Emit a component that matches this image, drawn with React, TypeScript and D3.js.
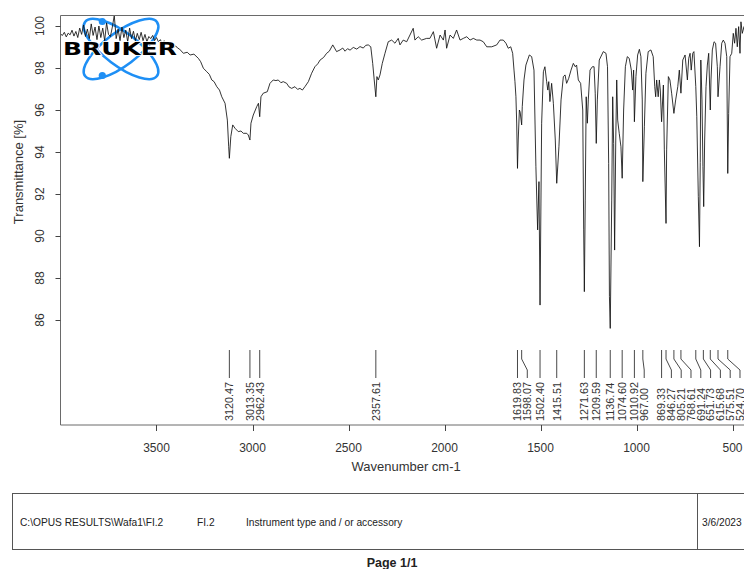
import React from 'react';
import * as d3 from 'd3';

const wavenumbers: number[] = [
  4000, 3990, 3980, 3970, 3960, 3950, 3940, 3930, 3920, 3910, 3900, 3890, 3880, 3870, 3860, 3850, 3840, 3830, 3820, 3810,
  3800, 3790, 3780, 3770, 3760, 3750, 3740, 3730, 3720, 3710, 3700, 3690, 3680, 3670, 3660, 3650, 3640, 3630, 3620, 3610,
  3600, 3590, 3580, 3570, 3560, 3550, 3540, 3530, 3520, 3510, 3500, 3490, 3480, 3470, 3460, 3450, 3440, 3430, 3420, 3410,
  3400, 3390, 3380,
  3360, 3340, 3325, 3305, 3282, 3270, 3256, 3238, 3225, 3212, 3200, 3186, 3172, 3160, 3143, 3131, 3124, 3120.47, 3113, 3103,
  3091, 3074, 3060, 3048, 3030, 3022, 3013.35, 3008, 2996, 2978, 2969, 2962.43, 2956, 2944, 2923, 2909, 2892, 2878, 2866, 2852,
  2840, 2822, 2810, 2796, 2779, 2765, 2753, 2740, 2727, 2709, 2692, 2675, 2660, 2648, 2630, 2614, 2600, 2582, 2562, 2544,
  2530, 2518, 2505, 2492, 2475, 2457, 2440, 2423, 2410, 2397, 2384, 2374, 2366, 2357.61, 2352, 2345, 2336, 2324, 2310, 2293,
  2275, 2258, 2241, 2232, 2215, 2197, 2180, 2163, 2154, 2137, 2119, 2093, 2076, 2058, 2041, 2023, 2006, 1997, 1989, 1971,
  1954, 1937, 1919, 1902, 1884, 1867, 1850, 1832, 1815, 1798, 1780, 1754, 1728, 1711, 1694, 1680, 1668, 1655, 1645, 1638,
  1633, 1628, 1624, 1619.83, 1616, 1610, 1606, 1598.07, 1595, 1586, 1576, 1558, 1546, 1534, 1524, 1515, 1508, 1502.4, 1494, 1485,
  1477, 1468, 1462, 1457, 1451, 1442, 1433, 1423, 1415.51, 1404, 1393, 1381, 1372, 1364, 1353, 1341, 1329, 1319, 1312, 1303,
  1291, 1280, 1275, 1271.63, 1267, 1262, 1256, 1251, 1242, 1230, 1221, 1215, 1209.59, 1204, 1194, 1173, 1159, 1151, 1145, 1141,
  1136.74, 1129, 1124, 1119, 1114, 1108, 1103, 1098, 1090, 1081, 1074.6, 1067, 1058, 1048, 1038, 1027, 1020, 1015, 1010.92, 1003,
  994, 985, 977, 970, 967, 959, 951, 939, 925, 913, 905, 900, 895, 887, 881, 876, 869.33, 860, 855, 846.27,
  843, 834, 826, 817, 805.21, 796, 785, 777, 768.61, 759, 747, 735, 728, 721, 715, 707, 701, 691.24, 686, 678,
  672, 668, 665, 659, 654, 650, 645, 638, 631, 624, 615.68, 612, 605, 596, 588, 579, 575.51, 565, 556, 548,
  539, 530, 524.7, 520, 513, 504, 496, 489, 482, 475, 468, 461, 456, 449, 440, 430, 420, 410, 400,
];

const transmittance: number[] = [
  99.62, 99.55, 99.70, 99.48, 99.66, 99.58, 99.80, 99.52, 99.74, 99.45, 99.90, 99.60, 100.05, 99.50, 99.85, 99.40, 100.10, 99.55, 99.95, 99.35,
  100.00, 99.45, 99.90, 99.30, 100.15, 99.60, 99.50, 99.95, 100.50, 99.40, 99.85, 99.30, 99.95, 99.45, 99.80, 99.25, 99.90, 99.40, 99.75, 99.30,
  99.65, 99.35, 99.70, 99.30, 99.60, 99.25, 99.50, 99.40, 99.55, 99.30, 99.45, 99.25, 99.35, 99.15, 99.30, 99.10, 99.20, 99.05, 99.12, 98.98,
  99.05, 98.95, 98.90,
  98.70, 98.75, 98.62, 98.66, 98.46, 98.30, 97.99, 97.82, 97.70, 97.43, 97.35, 97.11, 96.95, 96.63, 96.32, 95.52, 94.25, 93.70, 94.73, 95.29,
  95.13, 94.97, 95.00, 94.89, 94.89, 94.81, 94.57, 95.37, 95.76, 96.16, 96.32, 95.68, 96.63, 96.80, 96.87, 97.27, 97.43, 97.40, 97.43, 97.30,
  97.35, 97.27, 97.10, 97.03, 97.11, 96.98, 97.03, 96.95, 97.11, 97.35, 97.75, 98.06, 98.20, 98.38, 98.50, 98.70, 98.80, 99.10, 98.78, 98.86,
  98.95, 98.80, 98.92, 98.85, 98.98, 98.90, 99.02, 98.95, 99.08, 99.10, 99.01, 98.22, 97.43, 96.63, 97.59, 97.43, 97.67, 98.22, 98.70, 99.25,
  99.33, 99.18, 99.41, 99.10, 99.33, 99.25, 99.57, 99.89, 99.33, 99.49, 99.33, 99.41, 99.41, 99.73, 98.94, 99.57, 99.33, 99.81, 98.94, 99.57,
  99.41, 99.81, 99.33, 99.41, 99.49, 99.33, 99.41, 99.33, 99.33, 99.25, 99.01, 99.01, 99.10, 99.33, 99.33, 99.18, 98.94, 99.01, 98.70, 97.90,
  97.35, 96.63, 95.38, 93.22, 94.57, 96.00, 95.90, 95.29, 96.16, 97.43, 98.14, 98.62, 98.54, 97.90, 93.30, 90.29, 92.59, 86.71, 95.37, 97.82,
  98.06, 97.35, 96.95, 97.35, 96.40, 97.27, 96.32, 94.57, 92.51, 94.25, 96.48, 97.59, 97.67, 97.27, 97.51, 97.90, 98.22, 98.06, 98.14, 97.43,
  97.27, 96.00, 90.29, 87.35, 91.71, 96.63, 95.37, 96.48, 97.90, 98.06, 98.06, 96.80, 94.41, 96.48, 98.38, 98.78, 98.70, 98.06, 93.46, 87.11,
  85.60, 91.71, 96.63, 94.41, 89.33, 94.57, 97.43, 95.52, 94.89, 94.25, 92.75, 96.00, 98.06, 98.54, 98.46, 97.90, 96.95, 97.90, 95.44, 97.59,
  98.62, 98.89, 98.54, 96.48, 92.59, 95.20, 97.75, 98.78, 98.86, 98.54, 97.11, 96.63, 97.43, 96.63, 97.43, 96.95, 95.44, 97.19, 94.10, 90.60,
  94.10, 97.59, 97.43, 96.80, 95.84, 96.48, 97.11, 97.90, 96.80, 98.38, 98.62, 97.43, 98.46, 98.70, 97.90, 98.70, 98.78, 97.11, 95.68, 91.87,
  89.49, 93.50, 98.38, 96.48, 93.30, 91.40, 94.57, 97.11, 98.14, 98.70, 96.00, 97.43, 98.86, 99.25, 99.18, 98.06, 96.63, 98.06, 99.18, 99.33,
  99.18, 98.54, 92.98, 95.84, 98.54, 98.70, 99.65, 99.18, 99.89, 99.01, 99.97, 98.70, 100.20, 99.65, 99.97, 99.70, 99.85, 99.75, 99.80,
];

const peakPositions: number[] = [
  3120.47, 3013.35, 2962.43, 2357.61, 1619.83, 1598.07, 1502.4, 1415.51, 1271.63, 1209.59, 1136.74, 1074.6,
  1010.92, 967.0, 869.33, 846.27, 805.21, 768.61, 691.24, 651.73, 615.68, 575.51, 524.7,
];

const xTicks: number[] = [3500, 3000, 2500, 2000, 1500, 1000, 500];
const yTicks: number[] = [86, 88, 90, 92, 94, 96, 98, 100];

const W = 744;
const H = 569;
const left = 60.5;
const right = 751.7;
const top = 15.5;
const bottom = 425;

const font = "'Liberation Sans', Arial, sans-serif";

export default function App() {
  const x = d3.scaleLinear().domain([4000, 400]).range([left, right]);
  const y = d3.scaleLinear().domain([81, 100.5]).range([bottom, top]);

  const pts = wavenumbers.map((w, i) => [w, transmittance[i]] as [number, number]);
  const line = d3
    .line<[number, number]>()
    .x((d) => x(d[0]))
    .y((d) => y(d[1]));

  // peak label layout: labels keep a minimum spacing, shifted to the right when crowded
  const gap = 9.8;
  const labels: { px: number; lx: number; text: string }[] = [];
  let prev = -Infinity;
  peakPositions.forEach((p) => {
    const px = x(p);
    const lx = Math.max(px, prev + gap);
    prev = lx;
    labels.push({ px, lx, text: p.toFixed(2) });
  });
  const lineTop = 350;
  const kink1 = 359;
  const kink2 = 370;
  const lineBottom = 378;
  const textStart = 421;

  return (
    <svg
      width={W}
      height={H}
      style={{ position: 'absolute', left: 0, top: 0, background: '#fff' }}
      xmlns="http://www.w3.org/2000/svg"
    >
      <rect x={0} y={0} width={W} height={H} fill="#fff" />
      <defs>
        <clipPath id="plotClip">
          <rect x={left} y={top} width={right - left} height={bottom - top} />
        </clipPath>
      </defs>

      {/* logo ellipses */}
      <g fill="none" stroke="#1e8ff5" strokeWidth={2.6}>
        <ellipse cx={121} cy={49} rx={45} ry={16.5} transform="rotate(37 121 49)" />
        <ellipse cx={121} cy={49} rx={45} ry={16.5} transform="rotate(-37 121 49)" />
      </g>
      <circle cx={102.3} cy={21.5} r={3.6} fill="#1e8ff5" />
      <circle cx={102.3} cy={75.5} r={3.6} fill="#1e8ff5" />

      {/* spectrum */}
      <path
        d={line(pts) || ''}
        fill="none"
        stroke="#111"
        strokeWidth={0.85}
        clipPath="url(#plotClip)"
      />

      {/* logo text */}
      <text
        x={63}
        y={55}
        fontFamily="'DejaVu Sans', sans-serif"
        fontWeight={900}
        fontSize={18}
        textLength={114}
        lengthAdjust="spacingAndGlyphs"
        fill="#000"
        stroke="#fff"
        strokeWidth={1.6}
        style={{ paintOrder: 'stroke' }}
      >
        BRUKER
      </text>

      {/* frame */}
      <g stroke="#6a6a6a" strokeWidth={1} fill="none">
        <line x1={left} y1={top} x2={right} y2={top} />
        <line x1={left} y1={top} x2={left} y2={bottom} />
        <line x1={left} y1={bottom} x2={right} y2={bottom} />
        <line x1={right} y1={top} x2={right} y2={bottom} />
      </g>

      {/* x ticks */}
      {xTicks.map((t) => (
        <g key={'xt' + t}>
          <line x1={Math.round(x(t)) + 0.5} x2={Math.round(x(t)) + 0.5} y1={bottom} y2={bottom + 6} stroke="#444" />
          <text x={x(t)} y={451.5} fontFamily={font} fontSize={12} textAnchor="middle" fill="#333">
            {t}
          </text>
        </g>
      ))}
      <text x={(left + right) / 2} y={470.5} fontFamily={font} fontSize={13} textAnchor="middle" fill="#333">
        Wavenumber cm-1
      </text>

      {/* y ticks */}
      {yTicks.map((t) => (
        <g key={'yt' + t}>
          <line x1={left - 5} x2={left} y1={Math.round(y(t)) + 0.5} y2={Math.round(y(t)) + 0.5} stroke="#444" />
          <text
            transform={`translate(43.5, ${y(t)}) rotate(-90)`}
            fontFamily={font}
            fontSize={12}
            textAnchor="middle"
            fill="#333"
          >
            {t}
          </text>
        </g>
      ))}
      <text
        transform="translate(22.5, 172) rotate(-90)"
        fontFamily={font}
        fontSize={13}
        textAnchor="middle"
        fill="#333"
      >
        Transmittance [%]
      </text>

      {/* peak labels */}
      {labels.map((l, i) => (
        <g key={'pk' + i}>
          <path
            d={`M${l.px},${lineTop} L${l.px},${kink1} L${l.lx},${kink2} L${l.lx},${lineBottom}`}
            fill="none"
            stroke="#333"
            strokeWidth={0.9}
          />
          <text
            transform={`translate(${l.lx + 3.8}, ${textStart}) rotate(-90)`}
            fontFamily={font}
            fontSize={10.8}
            fill="#333"
          >
            {l.text}
          </text>
        </g>
      ))}

      {/* footer */}
      <rect x={12.5} y={493.5} width={800} height={56} fill="none" stroke="#555" />
      <line x1={697.5} x2={697.5} y1={493.5} y2={549.5} stroke="#555" />
      <text x={20} y={525.5} fontFamily={font} fontSize={10.2} fill="#222">
        C:\OPUS RESULTS\Wafa1\FI.2
      </text>
      <text x={197} y={525.5} fontFamily={font} fontSize={10.2} fill="#222">
        FI.2
      </text>
      <text x={246} y={525.5} fontFamily={font} fontSize={10.2} fill="#222">
        Instrument type and / or accessory
      </text>
      <text x={702} y={525.5} fontFamily={font} fontSize={10.2} fill="#222">
        3/6/2023
      </text>
      <text x={392} y={567} fontFamily={font} fontSize={12.5} fontWeight="bold" textAnchor="middle" fill="#222">
        Page 1/1
      </text>
    </svg>
  );
}
